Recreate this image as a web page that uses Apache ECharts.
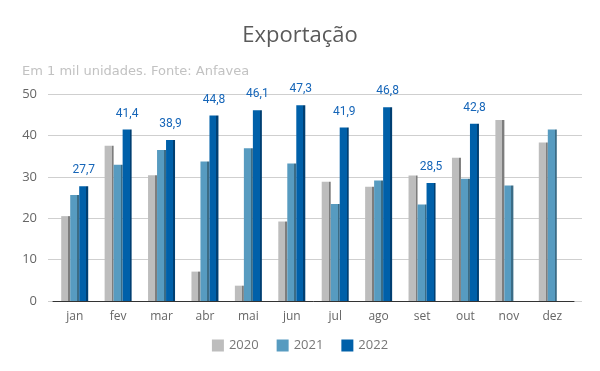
<!DOCTYPE html>
<html><head><meta charset="utf-8">
<script src="https://cdn.jsdelivr.net/npm/echarts@6/dist/echarts.min.js"></script>
<style>html,body{margin:0;padding:0;background:#fff}#c{width:600px;height:371px}</style>
</head><body><div id="c"></div>
<script>
const categories = ['jan','fev','mar','abr','mai','jun','jul','ago','set','out','nov','dez'];
const years = ['2020','2021','2022'];
const v2020 = [20.5, 37.5, 30.4, 7.1, 3.7, 19.2, 28.8, 27.6, 30.3, 34.6, 43.7, 38.3];
const v2021 = [25.6, 32.9, 36.5, 33.7, 36.9, 33.2, 23.4, 29.1, 23.3, 29.5, 27.9, 41.4];
const v2022 = [27.7, 41.4, 38.9, 44.8, 46.1, 47.3, 41.9, 46.8, 28.5, 42.8, null, null];
const yTicks = [0, 10, 20, 30, 40, 50];

const fronts = ['#bdbdbd', '#579bc0', '#0060a9'];
const sides = ['#7d7d7d', '#3b6c86', '#003f72'];
function grad(i){
  return new echarts.graphic.LinearGradient(0,0,1,0,[
    {offset:0,color:fronts[i]},{offset:0.78,color:fronts[i]},
    {offset:0.78,color:sides[i]},{offset:1,color:sides[i]}]);
}
const chart = echarts.init(document.getElementById('c'));
const vals = [v2020, v2021, v2022];
chart.setOption({
  animation:false,
  title:[
    {text:'Exportação',left:'center',top:20,textStyle:{fontFamily:'Open Sans',fontSize:22,fontWeight:'normal',color:'#5a5a5a'}},
    {text:'Em 1 mil unidades. Fonte: Anfavea',left:17,top:60,textStyle:{fontFamily:'DejaVu Sans',fontSize:13,fontWeight:'normal',color:'#c2c2c2'}}
  ],
  legend:{bottom:14,left:'center',itemWidth:12,itemHeight:12,itemGap:18,icon:'rect',
    textStyle:{fontFamily:'Open Sans',fontSize:13,color:'#777'},
    data:years.map((y,i)=>({name:y,itemStyle:{color:fronts[i]}}))},
  grid:[
    {left:53,right:26,top:94,bottom:70},
    {left:48,right:18,top:94,bottom:70}
  ],
  xAxis:[
    {type:'category',data:categories,gridIndex:0,axisTick:{show:false},
      axisLine:{lineStyle:{color:'#333',width:1}},
      axisLabel:{fontFamily:'Open Sans',fontSize:12,color:'#666',margin:10}},
    {type:'value',gridIndex:1,min:0,max:1,show:false}
  ],
  yAxis:[
    {type:'value',gridIndex:0,min:0,max:50,interval:10,show:false},
    {type:'value',gridIndex:1,min:yTicks[0],max:yTicks[yTicks.length-1],interval:10,
      axisLine:{show:false},axisTick:{show:false},
      splitLine:{lineStyle:{color:'#cfcfcf'}},
      axisLabel:{fontFamily:'Open Sans',fontSize:13,color:'#666',margin:11}}
  ],
  series: vals.map((d,i)=>({
    name:years[i],type:'bar',xAxisIndex:0,yAxisIndex:0,data:d,
    barWidth:9,barGap:'0%',
    itemStyle:{color:grad(i)},
    label: i===2 ? {show:true,position:'top',distance:10,fontFamily:'Roboto',fontSize:12,color:'#1565b8',
      formatter:p=>p.value==null?'':String(p.value).replace('.',',')} : {show:false}
  })),
  color: fronts
});
</script></body></html>
